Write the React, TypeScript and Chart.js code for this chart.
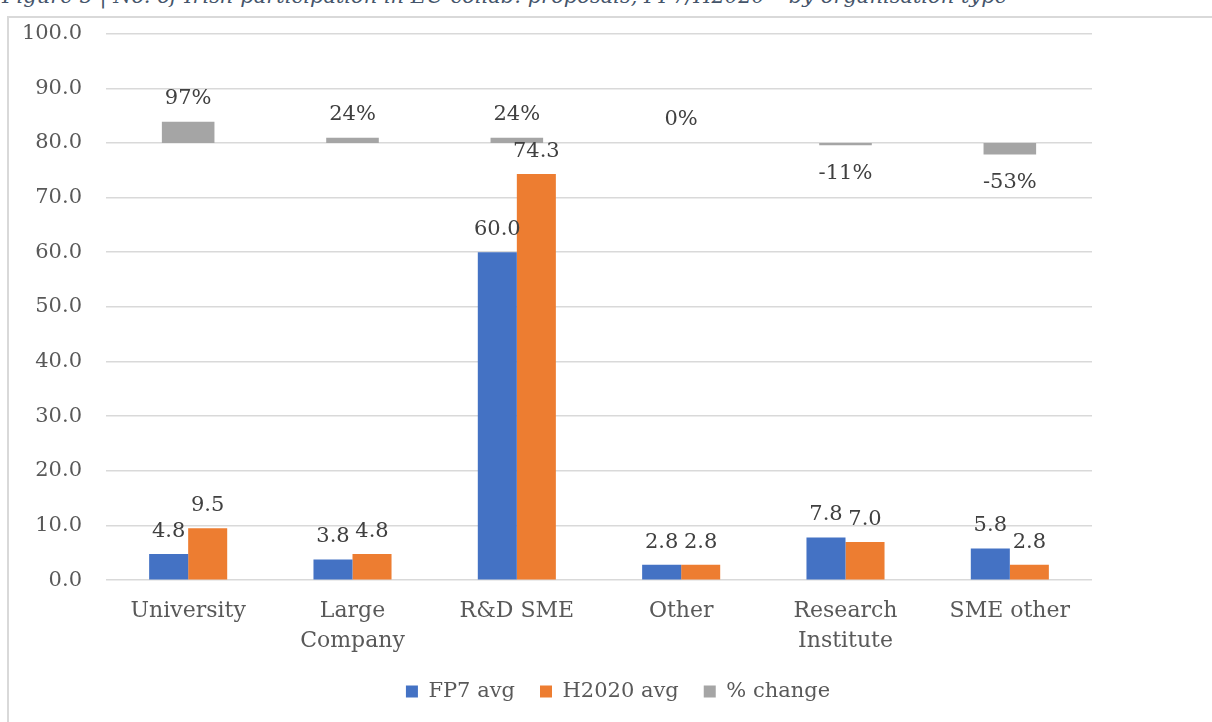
import React, { useEffect, useRef } from "react";
import { Chart, registerables } from "chart.js";

Chart.register(...registerables);

const categories: (string | string[])[] = [
  "University",
  ["Large", "Company"],
  "R&D SME",
  "Other",
  ["Research", "Institute"],
  "SME other",
];
const fp7Avg = [4.8, 3.8, 60.0, 2.8, 7.8, 5.8];
const h2020Avg = [9.5, 4.8, 74.3, 2.8, 7.0, 2.8];
const pctChange = [0.97, 0.24, 0.24, 0, -0.11, -0.53];
const yTicks = [0, 10, 20, 30, 40, 50, 60, 70, 80, 90, 100];

const FONT = "'DejaVu Serif', Georgia, serif";
const LEGEND_SHIFT = 72;

const labelPlugin = {
  id: "barLabels",
  afterLayout(chart: any) {
    if (chart.legend) {
      chart.legend.left += LEGEND_SHIFT;
      chart.legend.right += LEGEND_SHIFT;
    }
  },
  afterDatasetsDraw(chart: any) {
    const ctx = chart.ctx;
    ctx.save();
    ctx.font = `21px ${FONT}`;
    ctx.fillStyle = "#404040";
    ctx.textAlign = "center";
    chart.data.datasets.forEach((ds: any, di: number) => {
      const meta = chart.getDatasetMeta(di);
      meta.data.forEach((el: any, i: number) => {
        const v = ds.data[i];
        const isPct = ds.yAxisID === "y2";
        const text = isPct ? `${Math.round(v * 100)}%` : v.toFixed(1);
        if (v < 0) {
          ctx.textBaseline = "top";
          ctx.fillText(text, el.x, Math.max(el.y, el.base) + 18);
        } else {
          ctx.textBaseline = "bottom";
          ctx.fillText(text, el.x, Math.min(el.y, el.base) - (isPct ? 13 : 12));
        }
      });
    });
    ctx.restore();
  },
};

export default function App() {
  const ref = useRef<HTMLCanvasElement>(null);
  useEffect(() => {
    if (!ref.current) return;
    const chart = new Chart(ref.current, {
      type: "bar",
      data: {
        labels: categories,
        datasets: [
          {
            label: "FP7 avg",
            data: fp7Avg,
            backgroundColor: "#4472C4",
            categoryPercentage: 0.475,
            barPercentage: 1,
            yAxisID: "y",
          },
          {
            label: "H2020 avg",
            data: h2020Avg,
            backgroundColor: "#ED7D31",
            categoryPercentage: 0.475,
            barPercentage: 1,
            yAxisID: "y",
          },
          {
            label: "% change",
            data: pctChange,
            backgroundColor: "#A5A5A5",
            grouped: false,
            categoryPercentage: 1,
            barPercentage: 0.32,
            yAxisID: "y2",
          } as any,
        ],
      },
      options: {
        responsive: false,
        animation: false,
        events: [],
        layout: { padding: { top: 26, right: 120, left: 0, bottom: 10 } },
        plugins: {
          tooltip: { enabled: false },
          legend: {
            position: "bottom",
            labels: {
              boxWidth: 12,
              boxHeight: 12,
              padding: 25,
              color: "#595959",
              font: { family: FONT, size: 21 },
            },
          },
        },
        scales: {
          x: {
            grid: { display: false, drawTicks: true, tickLength: 16 },
            border: { display: false },
            ticks: {
              color: "#595959",
              padding: 0,
              maxRotation: 0,
              autoSkip: false,
              font: { family: FONT, size: 22, lineHeight: 1.36 },
            },
          },
          y: {
            min: yTicks[0],
            max: yTicks[yTicks.length - 1],
            afterBuildTicks: (s: any) => {
              s.ticks = yTicks.map((v) => ({ value: v }));
            },
            afterFit: (s: any) => {
              s.width = 106;
            },
            grid: { color: "#D9D9D9", lineWidth: 1.5, drawTicks: false },
            border: { display: false },
            ticks: {
              color: "#595959",
              padding: 24,
              font: { family: FONT, size: 21 },
              callback: (v: any) => Number(v).toFixed(1),
            },
          },
          y2: {
            display: false,
            min: -20,
            max: 5,
            grid: { display: false },
          },
        },
      },
      plugins: [labelPlugin],
    });
    return () => chart.destroy();
  }, []);

  return (
    <div
      style={{
        position: "absolute",
        left: 0,
        top: 0,
        width: 1212,
        height: 722,
        overflow: "hidden",
        background: "#fff",
      }}
    >
      <div
        style={{
          position: "absolute",
          left: 2,
          top: -16,
          whiteSpace: "nowrap",
          font: `italic 21px ${FONT}`,
          color: "#44546A",
        }}
      >
        Figure 5 | No. of Irish participation in EU collab. proposals, FP7/H2020 – by organisation type
      </div>
      <div
        style={{
          position: "absolute",
          left: 7,
          top: 16,
          width: 1300,
          height: 800,
          borderLeft: "2px solid #D9D9D9",
          borderTop: "2px solid #D9D9D9",
        }}
      />
      <canvas
        ref={ref}
        width={1212}
        height={725}
        style={{ position: "absolute", left: 0, top: -3, width: 1212, height: 725 }}
      />
    </div>
  );
}
